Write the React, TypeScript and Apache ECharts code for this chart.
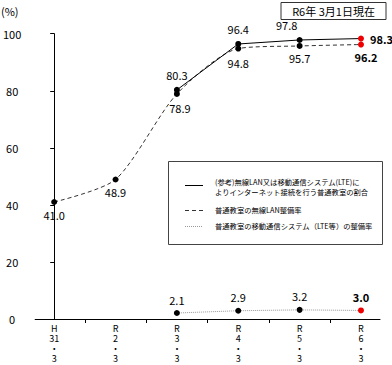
import React, { useEffect, useRef } from "react";
import * as echarts from "echarts";

const categories = ["H\n31\n・\n3", "R\n2\n・\n3", "R\n3\n・\n3", "R\n4\n・\n3", "R\n5\n・\n3", "R\n6\n・\n3"];
const lanOrLte: (number | null)[] = [null, null, 80.3, 96.4, 97.8, 98.3];
const wirelessLan: (number | null)[] = [41.0, 48.9, 78.9, 94.8, 95.7, 96.2];
const mobileLte: (number | null)[] = [null, null, 2.1, 2.9, 3.2, 3.0];
const yTicks = [0, 20, 40, 60, 80, 100];

const legendNames = [
  "(参考)無線LAN又は移動通信システム(LTE)に\nよりインターネット接続を行う普通教室の割合",
  "普通教室の無線LAN整備率",
  "普通教室の移動通信システム（LTE等）の整備率",
];
const dateNote = "R6年 3月1日現在";

const FONT = "'Noto Sans CJK JP', 'Noto Sans', sans-serif";
const RED = "#ee0000";

type LabelTweak = { position?: string; offset?: [number, number]; bold?: boolean };

function toPoints(values: (number | null)[], tweaks: Record<number, LabelTweak>, defPos: string) {
  const out: any[] = [];
  values.forEach((v, i) => {
    if (v === null) return;
    const last = i === values.length - 1;
    const t = tweaks[i] || {};
    out.push({
      value: [i, v],
      itemStyle: { color: last ? RED : "#000" },
      label: {
        show: true,
        position: t.position || defPos,
        offset: t.offset || [0, 0],
        fontWeight: t.bold ? "bold" : "normal",
        formatter: v.toFixed(1),
      },
    });
  });
  return out;
}

export default function App() {
  const ref = useRef<HTMLDivElement>(null);
  useEffect(() => {
    if (!ref.current) return;
    const chart = echarts.init(ref.current, null, { renderer: "svg" });
    const labelBase = { fontSize: 11, color: "#000", fontFamily: FONT, distance: 4 };
    chart.setOption({
      animation: false,
      backgroundColor: "#fff",
      grid: { left: 33, right: 12, top: 33.7, bottom: 46 },
      xAxis: {
        type: "value",
        min: -0.31,
        max: 5.31,
        splitLine: { show: false },
        axisLine: { show: true, lineStyle: { color: "#000", width: 1 } },
        axisTick: { show: true, length: 4, customValues: [0.5, 1.5, 2.5, 3.5, 4.5], lineStyle: { color: "#000" } },
        axisLabel: {
          customValues: [0, 1, 2, 3, 4, 5],
          formatter: (v: number) => categories[Math.round(v)] || "",
          fontSize: 9,
          lineHeight: 9.8,
          margin: 5,
          color: "#000",
          fontFamily: FONT,
        },
      },
      yAxis: {
        type: "value",
        min: 0,
        max: 100,
        interval: 20,
        splitLine: { show: false },
        axisLine: { show: true, lineStyle: { color: "#000", width: 1 } },
        axisTick: { show: true, length: 4, lineStyle: { color: "#000" } },
        axisLabel: {
          customValues: yTicks,
          fontSize: 11,
          color: "#000",
          align: "center",
          margin: 23,
          fontFamily: FONT,
        },
      },
      series: [
        {
          name: legendNames[0],
          type: "line",
          data: toPoints(lanOrLte, { 3: { position: "top" }, 4: { position: "top", offset: [-13, 0] }, 5: { position: "right", bold: true } }, "top"),
          symbol: "circle",
          symbolSize: 6,
          lineStyle: { color: "#000", width: 1, type: "solid" },
          label: { ...labelBase, distance: 6 },
          z: 3,
        },
        {
          name: legendNames[1],
          type: "line",
          data: toPoints(wirelessLan, { 2: { offset: [3, 2] }, 3: { offset: [0, 2] }, 5: { offset: [5, 0], bold: true } }, "bottom"),
          symbol: "circle",
          symbolSize: 6,
          smooth: 0.25,
          lineStyle: { color: "#333", width: 1, type: [4, 3] },
          label: { ...labelBase, distance: 4 },
          z: 2,
        },
        {
          name: legendNames[2],
          type: "line",
          data: toPoints(mobileLte, { 5: { bold: true } }, "top"),
          symbol: "circle",
          symbolSize: 6,
          lineStyle: { color: "#999", width: 1, type: [1, 1] },
          label: { ...labelBase, distance: 5 },
          z: 2,
        },
      ],
      graphic: [
        {
          type: "text",
          left: 1,
          top: 5,
          style: { text: "(%)", fontSize: 11, fill: "#000", fontFamily: FONT },
        },
        {
          type: "rect",
          shape: { x: 281, y: 2.5, width: 105, height: 17 },
          style: { fill: "#fff", stroke: "#333", lineWidth: 1 },
        },
        {
          type: "text",
          x: 333.5,
          y: 11,
          style: { text: dateNote, fontSize: 11, fill: "#000", fontFamily: FONT, align: "center", verticalAlign: "middle" },
        },
        {
          type: "rect",
          shape: { x: 168.5, y: 161.5, width: 214, height: 83 },
          style: { fill: "#fff", stroke: "#444", lineWidth: 1 },
          z: 10,
        },
        { type: "line", shape: { x1: 185, y1: 185.5, x2: 203, y2: 185.5 }, style: { stroke: "#000", lineWidth: 1 }, z: 11 },
        { type: "line", shape: { x1: 185, y1: 210.5, x2: 203, y2: 210.5 }, style: { stroke: "#333", lineWidth: 1, lineDash: [4, 3] }, z: 11 },
        { type: "line", shape: { x1: 185, y1: 226.5, x2: 203, y2: 226.5 }, style: { stroke: "#999", lineWidth: 1, lineDash: [1, 1] }, z: 11 },
        {
          type: "text",
          x: 215,
          y: 187,
          style: { text: legendNames[0], fontSize: 7.3, lineHeight: 9.5, fill: "#000", fontFamily: FONT, verticalAlign: "middle" },
          z: 11,
        },
        {
          type: "text",
          x: 215,
          y: 210,
          style: { text: legendNames[1], fontSize: 7.3, fill: "#000", fontFamily: FONT, verticalAlign: "middle" },
          z: 11,
        },
        {
          type: "text",
          x: 215,
          y: 226,
          style: { text: legendNames[2], fontSize: 7.3, fill: "#000", fontFamily: FONT, verticalAlign: "middle" },
          z: 11,
        },
      ],
    });
    return () => chart.dispose();
  }, []);
  return <div ref={ref} style={{ position: "absolute", left: 0, top: 0, width: 392, height: 365 }} />;
}
